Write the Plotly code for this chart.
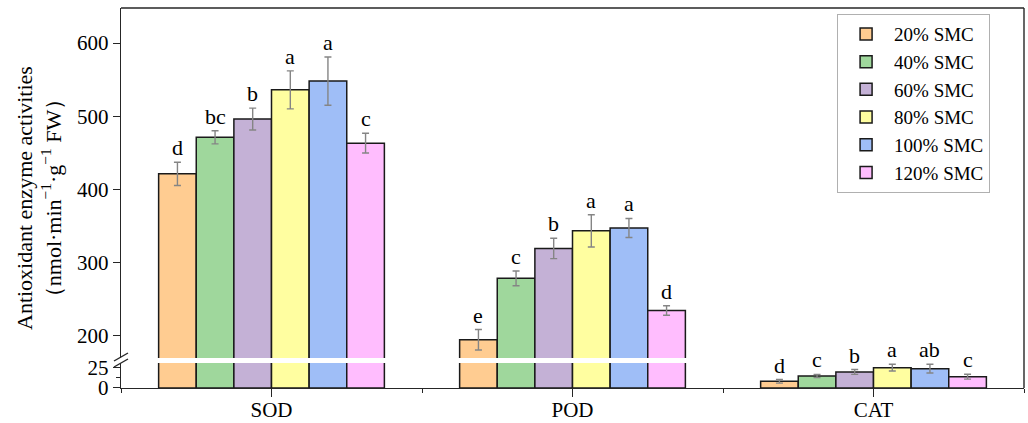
import plotly.graph_objects as go

categories = ["SOD", "POD", "CAT"]
series_names = ["20% SMC", "40% SMC", "60% SMC", "80% SMC", "100% SMC", "120% SMC"]
colors = ["#FFCC91", "#9FD79C", "#C4B1D6", "#FFFEA0", "#9FBEF7", "#FFBDFE"]

sod_mean = [421, 471, 496, 536, 548, 463]
sod_err = [16, 9, 15, 26, 33, 13.5]
sod_letters = ["d", "bc", "b", "a", "a", "c"]

pod_mean = [194, 278, 319, 343, 347, 234]
pod_err = [14, 10, 14, 22, 13, 6.5]
pod_letters = ["e", "c", "b", "a", "a", "d"]

cat_mean = [8.3, 14.9, 19.9, 25.2, 24.0, 14.0]
cat_err = [2.2, 2.0, 3.0, 4.2, 5.4, 3.0]
cat_letters = ["d", "c", "b", "a", "ab", "c"]

lower_range = [0, 31]
upper_range = [169, 648]
y_ticks_upper = [200, 300, 400, 500, 600]
y_ticks_lower = [0, 25]

means = [sod_mean, pod_mean, cat_mean]
errs = [sod_err, pod_err, cat_err]
letters = [sod_letters, pod_letters, cat_letters]

FONT = "Liberation Serif, Times New Roman, serif"
AX = "#262626"
xpos = list(range(len(categories)))
BARGAP = 0.25
nser = len(series_names)
bw = (1 - BARGAP) / nser

fig = go.Figure()
for i, name in enumerate(series_names):
    vals = [m[i] for m in means]
    ev = [e[i] for e in errs]
    for yax, show in (("y", False), ("y2", True)):
        fig.add_trace(go.Bar(
            x=xpos, y=vals, name=name, yaxis=yax, xaxis="x",
            marker=dict(color=colors[i], line=dict(color="#1a1a1a", width=1.5)),
            error_y=dict(type="data", array=ev, visible=True, color="#858585",
                         thickness=1.4, width=3.5),
            showlegend=show, legendgroup=name, offsetgroup=str(i),
            hoverinfo="skip",
        ))

annotations = []
for c in range(len(categories)):
    for i in range(nser):
        top = means[c][i] + errs[c][i]
        yref = "y" if top <= lower_range[1] else "y2"
        annotations.append(dict(
            x=c + (i - (nser - 1) / 2) * bw, y=top, xref="x", yref=yref,
            text=letters[c][i], showarrow=False, yanchor="bottom", yshift=0,
            font=dict(family=FONT, size=22, color="black"),
        ))

annotations.append(dict(
    x=0, xref="paper", y=0.5, yref="paper", xanchor="right", yanchor="middle",
    xshift=-53, textangle=-90, showarrow=False,
    text="Antioxidant enzyme activities<br>\uff08nmol\u00b7min<sup>\u22121</sup>\u00b7g<sup>\u22121</sup> FW\uff09",
    font=dict(family=FONT, size=22, color="black"),
))

W, H = 1028, 423
ml, mr, mt, mb = 121, 4, 8, 35
pw, ph = W - ml - mr, H - mt - mb
bottom_px = H - mb


def px(xp):
    return (xp - ml) / pw


def py(yp):
    return (bottom_px - yp) / ph


lower_top = 0.0658
upper_bot = 0.0789

shapes = [
    dict(type="line", xref="paper", yref="paper", x0=0, x1=1, y0=1, y1=1,
         line=dict(color=AX, width=1.4)),
    dict(type="line", xref="paper", yref="paper", x0=1, x1=1, y0=0, y1=1,
         line=dict(color=AX, width=1.4)),
    dict(type="line", xref="paper", yref="paper", x0=px(114), x1=px(128),
         y0=py(361), y1=py(353), line=dict(color=AX, width=1.4)),
    dict(type="line", xref="paper", yref="paper", x0=px(114), x1=px(128),
         y0=py(367), y1=py(359), line=dict(color=AX, width=1.4)),
]

tickfont = dict(family=FONT, size=21, color="black")
fig.update_layout(
    template="none",
    width=W, height=H, autosize=False,
    margin=dict(l=ml, r=mr, t=mt, b=mb, pad=0, autoexpand=False),
    paper_bgcolor="white", plot_bgcolor="white",
    barmode="group", bargap=BARGAP, bargroupgap=0,
    showlegend=True,
    legend=dict(x=0.793, y=0.984, xanchor="left", yanchor="top",
                bgcolor="white", bordercolor="#b0b0b0", borderwidth=1,
                font=dict(family=FONT, size=19, color="black"),
                itemwidth=46, tracegroupgap=0),
    xaxis=dict(range=[-0.5, 2.5], tickvals=xpos, ticktext=categories,
               automargin=False, ticklabelstandoff=-5,
               showline=True, linecolor=AX, linewidth=1.4, ticks="outside",
               ticklen=8, tickwidth=1.4, tickcolor=AX, tickfont=tickfont,
               showgrid=False, zeroline=False, anchor="y",
               minor=dict(tickmode="linear", tick0=0.5, dtick=1, ticks="outside",
                          ticklen=4, tickwidth=1.4, tickcolor=AX, showgrid=False)),
    yaxis=dict(domain=[0, lower_top], range=lower_range, tickvals=y_ticks_lower,
               automargin=False,
               showline=True, linecolor=AX, linewidth=1.4, ticks="outside",
               ticklen=7, tickwidth=1.4, tickcolor=AX, tickfont=tickfont,
               showgrid=False, zeroline=False, anchor="x",
               minor=dict(tickmode="linear", tick0=0, dtick=12.5, ticks="outside",
                          ticklen=4, tickwidth=1.4, tickcolor=AX, showgrid=False)),
    yaxis2=dict(domain=[upper_bot, 1], range=upper_range, tickvals=y_ticks_upper,
                automargin=False,
                showline=True, linecolor=AX, linewidth=1.4, ticks="outside",
                ticklen=7, tickwidth=1.4, tickcolor=AX, tickfont=tickfont,
                showgrid=False, zeroline=False, anchor="x"),
    annotations=annotations,
    shapes=shapes,
)

fig.write_html(
    "out.html",
    config={"displayModeBar": False},
    post_script="document.body.style.margin='0';document.body.style.overflow='hidden';",
)
